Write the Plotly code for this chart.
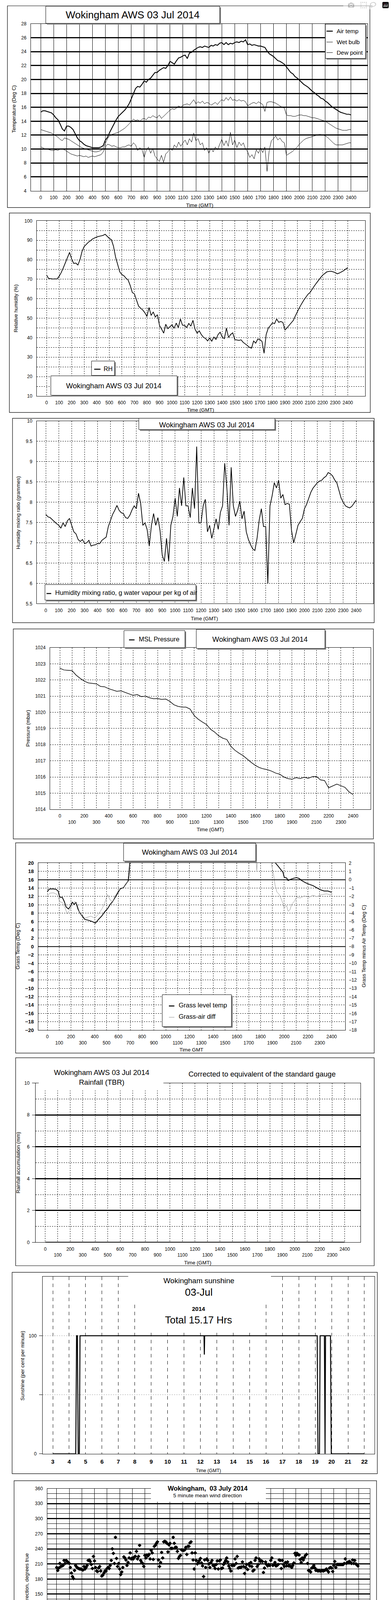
import plotly.graph_objects as go

W, H = 1000, 5000
SANS = "Liberation Sans, Arial, Helvetica, sans-serif"

# ------------------------------------------------------------------ DATA
TIME_TICKS = list(range(0, 2401, 100))          # HHMM-style decimal time

# 10-minute samples, 00:00 .. 24:00 (145 values each)
AIR_TEMP = [
    15.3, 15.5, 15.5, 15.4, 15.3, 15.2,
    14.9, 14.5, 14.2, 13.6, 12.9, 12.6,
    13.3, 13.3, 13.1, 12.8, 12.2, 11.6,
    11.2, 11.0, 10.7, 10.5, 10.4, 10.3,
    10.2, 10.2, 10.2, 10.2, 10.3, 10.5,
    11.3, 11.7, 12.4, 13.0, 13.6, 14.2,
    14.7, 15.0, 15.3, 15.6, 16.0, 16.5,
    17.2, 17.9, 18.7, 19.0, 18.9, 19.3,
    19.8, 19.6, 20.0, 20.2, 20.6, 21.0,
    21.0, 21.3, 21.5, 21.7, 21.6, 22.0,
    22.6, 22.4, 22.2, 22.7, 23.1, 23.2,
    23.4, 23.5, 23.0, 23.8, 23.9, 24.2,
    24.4, 24.6, 24.7, 24.6, 24.8, 24.7,
    24.6, 24.9, 24.8, 25.0, 24.9, 25.2,
    25.3, 25.0, 25.3, 25.0, 25.2, 25.1,
    25.3, 25.4, 25.3, 25.5, 25.4, 25.7,
    25.0, 25.1, 24.9, 25.0, 24.9, 24.8,
    24.8, 24.7, 24.6, 24.1, 23.7, 23.5,
    23.3, 23.0, 22.7, 22.6, 22.4, 22.2,
    21.8, 21.4, 21.0, 20.8, 20.4, 20.2,
    19.9, 19.6, 19.3, 19.1, 18.9, 18.6,
    18.3, 18.1, 17.8, 17.6, 17.3, 17.2,
    16.9, 16.7, 16.4, 16.1, 15.9, 15.7,
    15.5, 15.3, 15.2, 15.1, 15.0, 15.0,
    14.9]

WET_BULB = [
    12.8, 12.7, 12.6, 12.5, 12.4, 12.3,
    12.1, 11.9, 11.7, 11.4, 11.2, 11.6,
    11.5, 11.4, 11.2, 11.0, 10.8, 10.6,
    10.4, 10.2, 10.1, 10.0, 9.9, 9.8,
    9.7, 9.6, 9.6, 9.7, 9.8, 10.1,
    10.8, 11.5, 11.9, 12.1, 12.2, 12.3,
    12.4, 12.6, 12.8, 13.0, 13.3, 13.6,
    14.0, 14.3, 14.1, 14.2, 14.0, 14.3,
    14.4, 14.2, 14.6, 14.5, 14.8, 14.6,
    14.5, 14.9, 14.4, 14.7, 15.0, 15.3,
    15.6, 15.8, 15.7, 15.9, 16.2, 16.0,
    16.3, 16.4, 16.5, 16.3, 16.7, 17.1,
    16.5, 16.8, 16.6, 16.9, 16.5, 16.7,
    16.6, 16.3, 16.5, 16.7, 16.4, 16.8,
    17.1, 16.9, 17.4, 17.0, 17.5, 17.0,
    17.1, 16.9, 17.1, 16.9, 17.0, 16.8,
    16.2, 16.4, 16.6, 16.7, 16.5, 16.8,
    16.6, 16.4, 15.4, 16.7, 16.8, 16.8,
    16.7, 16.6, 16.4, 16.2, 16.0, 15.9,
    14.9, 14.8, 14.8, 14.7, 14.7, 14.8,
    14.9, 14.9, 14.8, 14.8, 14.7, 14.6,
    14.5, 14.5, 14.4, 14.3, 14.2, 14.1,
    14.0, 13.8, 13.6, 13.4, 13.2, 13.0,
    12.9, 12.8, 12.7, 12.7, 12.7, 12.8,
    12.8]

DEW_POINT = [
    10.3, 10.2, 10.0, 10.0, 9.9, 9.8,
    9.8, 9.9, 9.8, 10.0, 10.0, 9.9,
    9.7, 9.5, 9.3, 9.2, 9.1, 9.0,
    9.1, 9.0, 8.9, 9.0, 8.8, 8.9,
    9.0, 8.9, 9.0, 9.1, 9.2, 9.6,
    10.3, 10.7, 10.6, 10.4, 10.5, 10.3,
    10.2, 10.2, 10.3, 10.3, 10.5, 10.6,
    10.4, 10.9, 10.6, 9.8, 10.2, 9.9,
    8.8, 9.9, 10.3, 9.4, 10.1, 9.0,
    8.6, 8.2, 9.1, 8.1, 9.3, 9.6,
    10.1, 9.8, 10.6, 10.2, 11.0, 10.4,
    10.9, 11.3, 10.6, 11.5, 11.0, 12.3,
    11.2, 11.5, 10.6, 10.9, 9.8, 10.2,
    9.4, 10.1, 9.6, 10.3, 9.9, 10.6,
    11.4, 10.5, 11.2, 10.4, 12.4, 10.6,
    11.3, 10.2, 11.0, 10.5, 10.9, 10.0,
    9.6, 8.8, 9.2, 8.6, 9.9, 9.4,
    10.2, 9.5, 10.3, 6.8, 9.8, 11.2,
    11.5, 11.9, 11.3, 11.6, 11.1, 10.9,
    9.1, 9.3, 9.5, 9.7, 10.0, 10.3,
    10.7, 11.0, 11.3, 11.5, 11.6, 11.7,
    11.8, 11.9, 12.0, 12.1, 12.1, 12.0,
    11.9, 11.7, 11.4, 11.1, 10.8, 10.6,
    10.6, 10.6, 10.6, 10.7, 10.8, 10.9,
    10.9]

RH = [
    72.2, 70.4, 70.3, 70.1, 70.2, 70.1,
    71.5, 73.4, 75.8, 78.5, 81.5, 83.8,
    80.4, 78.1, 78.3, 77.3, 80.1, 84.4,
    86.8, 87.9, 89.0, 89.8, 90.7, 91.2,
    91.7, 92.0, 92.3, 92.5, 93.1, 92.0,
    91.0, 90.3, 87.0, 81.4, 77.4, 73.8,
    72.4, 71.8, 70.5, 69.6, 66.8, 63.2,
    62.5, 59.5, 56.2, 55.1, 54.2, 52.8,
    50.9, 55.5, 51.4, 53.2, 50.6, 51.8,
    46.3, 44.4, 42.3, 46.9, 44.6, 45.6,
    46.6, 44.8, 47.5, 45.2, 49.6, 46.4,
    46.3, 45.2, 47.3, 45.9, 48.9, 44.3,
    42.3, 43.5, 41.6, 40.2, 39.6, 38.3,
    39.8, 38.2, 40.3, 39.1, 41.6, 42.8,
    40.3, 39.5, 44.9, 40.1, 41.6, 42.5,
    39.0, 38.8, 38.6, 38.9, 37.6, 36.8,
    36.0, 35.0, 34.6, 38.3, 37.2, 39.3,
    39.0, 38.1, 32.0, 41.6, 44.9, 46.2,
    47.6, 47.2, 49.6, 47.9, 48.3, 47.8,
    43.9, 45.1, 46.3, 47.6, 48.9, 51.3,
    53.6, 55.6, 57.5, 59.3, 60.8, 62.3,
    63.2, 64.9, 66.5, 68.0, 69.5, 70.8,
    72.1, 73.0, 73.8, 74.0, 74.1, 73.8,
    73.4, 72.8, 73.2, 73.8, 74.4, 75.2,
    76.0]

MIXING_RATIO = [
    7.70, 7.64, 7.62, 7.57, 7.52, 7.47,
    7.43, 7.36, 7.49, 7.40, 7.54, 7.60,
    7.43, 7.27, 7.22, 7.08, 7.03, 7.08,
    6.98, 7.00, 7.06, 6.92, 6.94, 6.95,
    6.98, 6.98, 7.06, 7.10, 7.14, 7.40,
    7.56, 7.70, 7.80, 7.92, 7.80, 7.74,
    7.72, 7.62, 7.60, 7.68, 7.81, 7.91,
    7.84, 8.22, 7.97, 7.43, 7.49, 7.33,
    6.92, 7.43, 7.72, 7.43, 7.62, 7.30,
    6.70, 6.54, 7.11, 6.54, 7.43, 7.65,
    8.10, 7.65, 8.35, 7.91, 8.61, 7.91,
    7.91, 7.62, 8.35, 7.84, 9.37, 7.49,
    7.49, 7.91, 8.07, 7.27, 7.43, 7.11,
    7.35, 7.59, 7.33, 7.75, 7.91, 8.96,
    8.35, 7.43, 8.86, 7.91, 7.65, 7.80,
    8.03, 7.59, 7.78, 7.27, 7.08, 6.95,
    6.85, 6.81, 7.11, 7.56, 7.84, 7.40,
    7.40, 6.00, 7.91, 8.16, 8.48, 8.35,
    8.54, 8.10, 8.19, 7.94, 7.97, 7.95,
    7.30, 7.00, 7.21, 7.43, 7.52, 7.60,
    7.84, 7.95, 8.10, 8.25, 8.35, 8.42,
    8.48, 8.52, 8.54, 8.60, 8.64, 8.73,
    8.70, 8.65, 8.55, 8.48, 8.29, 8.10,
    8.00, 7.91, 7.88, 7.86, 7.90, 7.98,
    8.05]

# 20-minute samples (73 values)
MSL_PRESSURE = [
    1022.73, 1022.62, 1022.60, 1022.58, 1022.30, 1022.10,
    1021.93, 1021.82, 1021.79, 1021.76, 1021.60, 1021.58,
    1021.46, 1021.38, 1021.30, 1021.33, 1021.24, 1021.14,
    1021.05, 1021.10, 1020.97, 1021.00, 1020.90, 1020.84,
    1020.85, 1020.80, 1020.82, 1020.68, 1020.47, 1020.37,
    1020.32, 1020.32, 1020.20, 1019.80, 1019.57, 1019.40,
    1019.25, 1018.95, 1018.78, 1018.55, 1018.40, 1018.32,
    1017.90, 1017.65, 1017.47, 1017.32, 1017.10, 1016.90,
    1016.72, 1016.58, 1016.50, 1016.45, 1016.36, 1016.24,
    1016.17, 1016.00, 1015.90, 1015.86, 1015.96, 1015.90,
    1015.98, 1015.92, 1016.02, 1016.03, 1015.82, 1015.78,
    1015.33, 1015.44, 1015.56, 1015.46, 1015.36, 1015.08,
    1014.91]

# (time HHMM-decimal, value); None = off the chart (above 20 degC)
GRASS_TEMP = [
    (0, 13.1), (11, 13.6), (21, 13.8), (53, 13.8), (74, 13.7), (91, 13.3),
    (105, 11.8), (126, 11.8), (143, 10.8), (158, 9.5), (179, 9.0), (194, 9.6),
    (211, 10.6), (227, 10.1), (242, 10.6), (257, 9.1), (274, 8.1), (295, 7.3),
    (316, 6.5), (347, 6.3), (379, 6.0), (406, 5.6), (432, 6.5), (459, 7.3),
    (484, 8.3), (509, 9.1), (531, 10.1), (552, 10.8), (573, 11.8), (594, 12.8),
    (615, 13.8), (642, 14.1), (663, 14.9), (684, 15.8), (691, 17.8), (700, 22.0),
    (1300, None),
    (1915, 22.0), (1926, 20.0), (1947, 19.3), (1968, 18.6), (1989, 17.8),
    (2000, 16.6), (2021, 16.4), (2032, 15.8), (2053, 16.1), (2084, 16.4),
    (2105, 16.5), (2126, 16.3), (2147, 15.8), (2179, 15.3), (2211, 14.9),
    (2242, 14.6), (2274, 14.1), (2305, 13.6), (2337, 13.3), (2368, 13.3), (2400, 13.0)]

# grass minus air temperature (right axis)
GRASS_AIR_DIFF = [
    (0, -1.95), (21, -1.6), (53, -1.57), (84, -1.78), (105, -2.6), (130, -2.77),
    (152, -3.45), (168, -4.1), (189, -3.6), (211, -3.1), (232, -2.6), (253, -2.95),
    (274, -4.0), (295, -4.27), (316, -4.6), (347, -4.45), (368, -4.36), (400, -4.6),
    (432, -4.1), (463, -3.44), (484, -2.77), (509, -1.78), (531, -2.44), (552, -2.61),
    (573, -1.94), (600, -1.28), (632, -1.03), (663, -0.6), (678, -0.2), (700, 3.0),
    (1200, None),
    (1758, 3.0), (1768, 1.1), (1778, 3.0),
    (1830, None),
    (1885, 3.0), (1895, 1.63), (1909, 0.7), (1922, -0.6), (1937, -1.44), (1958, -1.78),
    (1979, -2.44), (2000, -3.35), (2021, -3.1), (2032, -3.77), (2048, -3.6), (2063, -2.94),
    (2084, -2.6), (2105, -2.1), (2137, -2.18), (2168, -1.94), (2211, -2.1), (2242, -1.85),
    (2274, -2.03), (2316, -1.78), (2358, -1.7), (2400, -1.85)]

RAINFALL = [(0, 0.0), (2400, 0.0)]

# (hour, per cent per minute)
SUNSHINE = [
    (3.0, 0), (4.40, 0), (4.45, 100), (4.50, 100), (4.55, 0), (4.62, 0), (4.66, 100),
    (12.22, 100), (12.24, 84), (12.26, 100), (19.12, 100), (19.17, 0), (19.26, 0),
    (19.30, 100), (19.56, 100), (19.60, 0), (19.63, 100), (19.93, 100), (19.98, 0), (22.0, 0)]

SUN_HOURS = list(range(3, 23))

# 5-minute mean wind direction (288 values, 00:00 .. 23:55)
WIND_DIR = [
    203, 197, 202, 211, 205, 206, 207, 217, 211, 217, 215, 213,
    211, 203, 192, 185, 181, 197, 207, 204, 202, 201, 200, 200,
    199, 198, 205, 200, 203, 207, 217, 218, 215, 209, 201, 225,
    216, 203, 196, 195, 202, 205, 196, 186, 188, 192, 196, 196,
    201, 203, 201, 207, 217, 240, 231, 211, 263, 221, 205, 211,
    200, 189, 194, 203, 224, 222, 218, 207, 213, 222, 232, 220,
    222, 220, 224, 225, 235, 220, 225, 247, 217, 213, 211, 205,
    227, 222, 228, 226, 229, 220, 237, 232, 219, 245, 247, 251,
    254, 218, 205, 213, 233, 222, 254, 255, 254, 251, 234, 248,
    251, 241, 241, 263, 251, 243, 243, 235, 221, 225, 227, 238,
    237, 237, 238, 243, 229, 245, 245, 252, 254, 232, 218, 200,
    232, 217, 210, 213, 217, 221, 212, 206, 185, 218, 203, 220,
    217, 210, 203, 213, 217, 207, 206, 201, 209, 216, 200, 216,
    218, 201, 202, 209, 213, 217, 222, 214, 206, 201, 196, 207,
    209, 207, 220, 211, 225, 202, 203, 203, 204, 214, 205, 191,
    203, 209, 199, 210, 206, 213, 205, 196, 198, 217, 222, 205,
    209, 220, 215, 216, 215, 193, 202, 214, 209, 206, 209, 207,
    217, 222, 207, 209, 213, 206, 207, 209, 218, 217, 201, 217,
    209, 205, 213, 206, 214, 206, 206, 205, 203, 207, 212, 231,
    227, 231, 229, 228, 219, 213, 222, 218, 223, 227, 229, 211,
    197, 197, 194, 202, 203, 207, 202, 197, 198, 196, 197, 196,
    196, 197, 196, 197, 198, 200, 197, 194, 202, 203, 202, 195,
    207, 215, 203, 209, 209, 209, 209, 209, 209, 209, 211, 220,
    211, 213, 214, 215, 213, 211, 218, 211, 217, 210, 209, 206]

# 10 min mean wind speed, every 0.2 h (121 values)
WIND_MEAN = [
    2.9, 3.4, 4.2, 4.5, 4.3, 4.5, 4.1, 2.9, 3.1, 3.6,
    3.9, 3.8, 3.6, 3.9, 3.4, 2.3, 2.3, 2.2, 2.3, 2.1,
    2.5, 2.6, 2.3, 2.1, 1.5, 0.7, 1.8, 2.3, 3.7, 4.5,
    4.5, 4.8, 5.6, 5.4, 4.8, 6.6, 7.2, 6.9, 6.6, 7.7,
    6.4, 7.5, 6.1, 8.8, 6.9, 7.5, 8.3, 7.5, 8.0, 7.7,
    7.7, 10.7, 9.9, 9.1, 9.3, 8.0, 10.4, 9.1, 10.2, 9.9,
    9.6, 9.9, 10.7, 10.2, 10.4, 9.9, 11.8, 10.2, 11.0, 9.9,
    9.3, 10.2, 9.3, 9.9, 9.1, 10.2, 10.2, 10.4, 9.6, 9.9,
    9.6, 11.0, 10.7, 10.4, 11.0, 10.2, 7.5, 9.1, 9.6, 9.1,
    7.2, 8.8, 8.3, 8.8, 8.3, 7.7, 6.6, 7.2, 6.4, 5.3,
    4.5, 4.8, 4.5, 4.5, 4.6, 5.0, 4.8, 4.9, 5.0, 4.5,
    5.3, 4.5, 5.6, 6.4, 6.1, 6.4, 6.6, 6.9, 6.1, 6.1,
    5.8]

# max gust, every 0.1 h (241 values)
WIND_GUST = [
    4.0, 5.2, 4.5, 8.5, 5.0, 6.8, 5.5, 7.2, 5.0, 6.5,
    5.5, 6.9, 5.0, 4.2, 5.8, 4.0, 5.5, 4.8, 5.2, 5.9,
    5.0, 5.7, 4.6, 5.5, 4.8, 5.6, 4.5, 5.3, 4.4, 4.8,
    3.2, 2.6, 3.3, 2.7, 3.4, 2.8, 3.5, 2.6, 3.2, 3.0,
    2.8, 3.6, 3.0, 3.4, 2.9, 3.5, 3.0, 3.2, 2.7, 2.2,
    1.0, 2.0, 1.6, 2.8, 2.4, 3.5, 4.5, 6.2, 5.0, 7.5,
    5.5, 8.0, 6.2, 9.0, 6.5, 10.5, 7.0, 9.5, 6.0, 10.0,
    7.5, 11.5, 8.0, 10.5, 7.5, 12.0, 8.5, 10.0, 7.0, 11.0,
    8.0, 12.5, 7.5, 10.5, 8.5, 15.0, 9.0, 11.5, 8.0, 12.0,
    8.5, 13.5, 9.0, 12.0, 8.5, 14.0, 9.5, 12.5, 9.0, 13.0,
    9.0, 18.5, 11.5, 15.5, 10.5, 16.0, 11.0, 14.5, 10.0, 17.0,
    10.5, 15.0, 9.5, 17.5, 11.0, 14.0, 10.0, 18.5, 11.5, 16.0,
    10.0, 19.5, 11.5, 15.0, 10.5, 17.5, 12.0, 20.5, 11.0, 16.5,
    11.5, 18.0, 10.5, 16.0, 12.0, 19.0, 11.0, 17.0, 10.5, 15.5,
    11.0, 18.5, 10.0, 16.5, 11.5, 19.5, 10.5, 17.0, 11.0, 16.0,
    11.5, 18.0, 10.5, 17.5, 12.0, 19.0, 11.0, 16.5, 10.5, 18.5,
    11.0, 17.0, 12.0, 19.5, 11.5, 20.0, 11.0, 18.0, 12.0, 19.0,
    9.0, 16.5, 10.5, 14.0, 9.5, 15.5, 10.0, 13.5, 9.0, 15.0,
    3.8, 14.0, 9.5, 12.5, 8.5, 13.0, 9.0, 12.0, 8.0, 11.5,
    8.5, 12.0, 7.5, 11.0, 8.0, 10.5, 7.0, 9.5, 6.5, 8.5,
    5.0, 7.5, 4.5, 8.0, 5.0, 7.0, 4.5, 6.5, 5.0, 7.5,
    5.0, 6.5, 4.8, 7.5, 5.0, 8.0, 5.0, 6.5, 4.6, 8.5,
    5.0, 9.5, 6.0, 10.5, 6.5, 9.0, 6.5, 10.0, 7.0, 9.5,
    7.0, 10.0, 6.5, 11.5, 6.5, 9.0, 6.0, 9.5, 5.8, 8.5,
    7.5]

# speeds below 4 kt shown at x10 scale: (hour, value)
WIND_LOW_X10 = [
    (0.00, 27.4), (0.04, 28.5), (0.08, 28.8), (0.12, 30.4), (0.14, 30.9), (0.15, 31.7),
    (0.19, 33.9), (0.23, 34.4), (0.27, 34.7), (0.31, 35.8), (0.33, 37.7), (0.35, 38.2),
    (0.37, 39.4),
    (1.24, 39.3), (1.27, 36.9), (1.29, 36.1), (1.31, 33.6), (1.35, 32.8), (1.37, 32.0),
    (1.39, 30.7), (1.41, 29.6), (1.43, 28.8), (1.45, 28.0), (1.47, 28.5), (1.49, 29.3),
    (1.51, 30.1), (1.54, 30.9), (1.58, 31.7), (1.62, 32.3), (1.66, 32.8), (1.70, 33.1),
    (1.74, 31.7), (1.78, 32.8), (1.81, 33.9), (1.85, 35.5), (1.89, 36.9), (1.93, 38.5),
    (1.97, 39.0), (2.01, 39.8), (2.05, 38.2), (2.08, 37.4), (2.12, 37.9), (2.16, 38.8),
    (2.20, 37.4), (2.24, 39.0), (2.28, 37.1), (2.32, 36.1), (2.36, 35.0), (2.39, 34.2),
    (2.43, 36.1), (2.47, 37.1), (2.51, 38.2), (2.55, 39.0), (2.59, 38.5), (2.63, 37.1),
    (2.66, 35.5), (2.70, 33.9), (2.74, 33.1), (2.78, 32.8), (2.82, 32.3), (2.86, 32.8),
    (2.90, 32.3), (2.93, 31.2), (2.97, 30.1), (3.01, 28.5), (3.03, 27.4), (3.05, 26.3),
    (3.07, 25.0), (3.09, 23.7), (3.11, 22.0), (3.13, 21.0), (3.17, 20.1),
    (3.20, 21.0), (3.26, 22.0), (3.32, 22.6), (3.38, 22.3), (3.44, 22.8), (3.49, 23.4),
    (3.55, 22.6), (3.61, 21.5), (3.67, 20.4), (3.71, 19.6), (3.75, 20.4), (3.80, 21.8),
    (3.86, 23.1), (3.92, 23.9), (3.98, 22.6), (4.03, 21.5), (4.09, 22.6), (4.15, 24.3),
    (4.21, 25.5), (4.27, 26.6), (4.32, 26.9), (4.38, 26.1), (4.44, 24.7), (4.50, 23.1),
    (4.56, 22.0), (4.61, 20.4), (4.67, 19.9), (4.73, 19.3), (4.77, 18.3), (4.81, 16.6),
    (4.83, 15.3), (4.85, 13.9), (4.86, 11.8), (4.88, 10.2), (4.90, 9.1), (4.94, 7.7),
    (4.96, 6.6), (5.00, 8.0), (5.02, 10.2), (5.04, 12.9), (5.06, 14.7), (5.08, 16.1),
    (5.10, 17.7), (5.14, 18.5), (5.17, 19.1), (5.21, 19.3), (5.25, 19.9), (5.29, 21.0),
    (5.33, 22.6), (5.35, 23.9), (5.37, 25.3), (5.39, 27.4), (5.42, 29.6), (5.44, 31.5),
    (5.46, 33.1), (5.50, 34.7), (5.54, 36.1), (5.58, 37.1), (5.62, 36.9), (5.66, 37.4),
    (5.69, 38.5), (5.73, 39.3)]

WIND_HOURS = list(range(0, 26))

# ------------------------------------------------------------------ HELPERS
T10 = [i * 100 / 6 for i in range(len(AIR_TEMP))]          # 10-min steps in HHMM-decimal
T20 = [i * 100 / 3 for i in range(len(MSL_PRESSURE))]      # 20-min steps
DIR_H = [i / 12 for i in range(len(WIND_DIR))]
MEAN_H = [i * 0.2 for i in range(len(WIND_MEAN))]
GUST_H = [i * 0.1 for i in range(len(WIND_GUST))]

shapes, annotations = [], []
layout = dict(width=W, height=H, margin=dict(l=0, r=0, t=0, b=0), autosize=False,
              paper_bgcolor='white', plot_bgcolor='white', showlegend=False)
fig = go.Figure()


def PX(x):
    return x / W


def PY(y):
    return 1 - y / H


def prect(x0, y0, x1, y1, fill=None, lw=1.2, lc='black'):
    d = dict(type='rect', xref='paper', yref='paper', x0=PX(x0), x1=PX(x1),
             y0=PY(y1), y1=PY(y0), layer='above',
             line=dict(color=lc, width=lw))
    if fill:
        d['fillcolor'] = fill
    if lw == 0:
        d['line'] = dict(width=0)
    shapes.append(d)


def mask(x0, y0, x1, y1):
    prect(x0, y0, x1, y1, fill='white', lw=0)


def sbox(x0, y0, x1, y1, sh=3):
    prect(x0 + sh, y0 + sh, x1 + sh, y1 + sh, fill='#808080', lw=0)
    prect(x0, y0, x1, y1, fill='white', lw=1)


def pline(x0, x1, y, color='black', width=2):
    shapes.append(dict(type='line', xref='paper', yref='paper', x0=PX(x0), x1=PX(x1),
                       y0=PY(y), y1=PY(y), layer='above', line=dict(color=color, width=width)))


def text(x, y, s, size=13, anchor='center', angle=0, bold=False, family=SANS):
    annotations.append(dict(xref='paper', yref='paper', x=PX(x), y=PY(y), text=s,
                            showarrow=False, xanchor=anchor, yanchor='middle',
                            textangle=angle,
                            font=dict(family=family, size=size, color='black',
                                      weight='bold' if bold else 'normal')))


TICKF = dict(family=SANS, size=12, color='black')


def axes(n, box, xr, yr, xkw, ykw):
    x0, y0, x1, y1 = box
    sx = '' if n == 1 else str(n)
    base = dict(showline=True, mirror=True, linecolor='black', linewidth=1, zeroline=False,
                ticks='', showgrid=True, gridcolor='black', gridwidth=1,
                tickfont=TICKF, fixedrange=True)
    xa = dict(base, domain=[PX(x0), PX(x1)], range=xr, anchor='y' + sx)
    xa.update(xkw)
    ya = dict(base, domain=[PY(y1), PY(y0)], range=yr, anchor='x' + sx)
    ya.update(ykw)
    layout['xaxis' + sx] = xa
    layout['yaxis' + sx] = ya
    return 'x' + sx, 'y' + sx


def line(xs, ys, xa, ya, color='black', width=1):
    fig.add_trace(go.Scatter(x=xs, y=ys, mode='lines', xaxis=xa, yaxis=ya, hoverinfo='skip',
                             connectgaps=False, line=dict(color=color, width=width)))


def two_rows(vals, fmt=str):
    return [fmt(v) if i % 2 == 0 else '<br>' + fmt(v) for i, v in enumerate(vals)]


def split(pairs):
    return [p[0] for p in pairs], [p[1] for p in pairs]


# ------------------------------------------------------------------ PANEL 1 : temperatures
prect(19, 8, 946, 526)
xa, ya = axes(1, (79, 54, 940, 483), [-76, 2527], [4, 28],
              dict(tickmode='array', tickvals=TIME_TICKS, ticktext=[str(v) for v in TIME_TICKS],
                   ticklabelstandoff=6),
              dict(tickmode='linear', tick0=0, dtick=2, gridwidth=3, ticklabelstandoff=8))
line(T10, AIR_TEMP, xa, ya, width=2.2)
line(T10, WET_BULB, xa, ya, width=1)
line(T10, DEW_POINT, xa, ya, width=1)
sbox(117, 9, 562, 53)
text(339, 31, 'Wokingham AWS 03 Jul 2014', 26)
sbox(832, 55, 935, 143)
pline(835, 851, 73, width=2.5)
pline(835, 851, 101, width=1)
pline(835, 851, 128, width=1)
text(859, 73, 'Air temp', 15, 'left')
text(859, 101, 'Wet bulb', 15, 'left')
text(859, 128, 'Dew point', 15, 'left')
text(35, 273, 'Temperature (Deg C)', 13, angle=-90)
text(511, 520, 'Time (GMT)', 13)

# ------------------------------------------------------------------ PANEL 2 : RH
prect(24, 540, 947, 1052)
xa, ya = axes(2, (94, 560, 934, 1010), [-78, 2539], [10, 100],
              dict(tickmode='array', tickvals=TIME_TICKS, ticktext=[str(v) for v in TIME_TICKS],
                   griddash='dot', ticklabelstandoff=6),
              dict(tickmode='linear', tick0=0, dtick=10, griddash='dot', ticklabelstandoff=8,
                   minor=dict(dtick=5, tick0=0, showgrid=True, gridcolor='black',
                              griddash='dot', gridwidth=1)))
line(T10, RH, xa, ya, width=1.8)
sbox(234, 920, 293, 957)
pline(241, 257, 941, width=2.5)
text(263, 940, 'RH', 16, 'left')
sbox(130, 958, 453, 1008)
text(291, 983, 'Wokingham AWS 03 Jul 2014', 18.5)
text(41, 785, 'Relative humidity (%)', 13, angle=-90)
text(513, 1046, 'Time (GMT)', 13)

# ------------------------------------------------------------------ PANEL 3 : mixing ratio
prect(32, 1067, 957, 1592)
xa, ya = axes(3, (94, 1074, 955, 1543), [-70, 2533], [5.5, 10],
              dict(tickmode='array', tickvals=TIME_TICKS, ticktext=[str(v) for v in TIME_TICKS],
                   griddash='dot', ticklabelstandoff=6),
              dict(tickmode='linear', tick0=0, dtick=0.5, griddash='dot', ticklabelstandoff=8))
line(T10, MIXING_RATIO, xa, ya, width=1.8)
sbox(355, 1067, 703, 1096)
text(529, 1084, 'Wokingham AWS 03 Jul 2014', 18.5)
sbox(115, 1494, 501, 1534)
pline(119, 131, 1517, width=2.5)
text(139, 1515, 'Humidity mixing ratio, g water vapour per kg of air', 16.5, 'left')
text(46, 1310, 'Humidity mixing ratio (grammes)', 13, angle=-90)
text(523, 1581, 'Time (GMT)', 13)

# ------------------------------------------------------------------ PANEL 4 : pressure
prect(34, 1608, 955, 2147)
xa, ya = axes(4, (128, 1656, 948, 2071), [-80, 2544], [1014, 1024],
              dict(tickmode='array', tickvals=TIME_TICKS, ticktext=two_rows(TIME_TICKS),
                   griddash='dot', ticklabelstandoff=6),
              dict(tickmode='linear', tick0=0, dtick=1, griddash='dot', ticklabelstandoff=8))
line(T20, MSL_PRESSURE, xa, ya, width=1.5)
sbox(317, 1612, 473, 1656)
pline(330, 344, 1636, width=2.5)
text(353, 1634, 'MSL Pressure', 16.5, 'left')
sbox(502, 1609, 831, 1658)
text(665, 1634, 'Wokingham AWS 03 Jul 2014', 18.5)
text(71, 1863, 'Pressure (mbar)', 13, angle=-90)
text(538, 2123, 'Time (GMT)', 13)

# ------------------------------------------------------------------ PANEL 5 : grass temps
prect(40, 2157, 957, 2697)
xa, ya = axes(5, (98, 2209, 883, 2638), [-76, 2515], [-20, 20],
              dict(tickmode='array', tickvals=TIME_TICKS, ticktext=two_rows(TIME_TICKS),
                   griddash='dot', ticklabelstandoff=6),
              dict(tickmode='linear', tick0=0, dtick=2, griddash='dot', ticklabelstandoff=8,
                   tickfont=dict(family=SANS, size=13, color='black', weight='bold')))
layout['yaxis10'] = dict(overlaying='y5', anchor='x5', side='right', range=[-18, 2],
                         tickmode='linear', tick0=0, dtick=1, showgrid=False, zeroline=False,
                         showline=False, tickfont=TICKF, fixedrange=True, ticklabelstandoff=8)
shapes.append(dict(type='line', xref='x5 domain', yref='y5', x0=0, x1=1, y0=0, y1=0,
                   line=dict(color='black', width=2), layer='above'))
shapes.append(dict(type='line', xref='x5 domain', yref='y5', x0=0, x1=1, y0=16, y1=16,
                   line=dict(color='black', width=2), layer='above'))
gx, gy = split(GRASS_TEMP)
dx, dy = split(GRASS_AIR_DIFF)
line(dx, dy, xa, 'y10', color='#8c8c8c', width=1)
line(gx, gy, xa, ya, width=2)
sbox(316, 2158, 654, 2204)
text(485, 2181, 'Wokingham AWS 03 Jul 2014', 18.5)
sbox(415, 2547, 592, 2629)
pline(432, 446, 2576, width=2.5)
pline(432, 446, 2605, color='#8c8c8c', width=1)
text(455, 2574, 'Grass level temp', 16.5, 'left')
text(455, 2603, 'Grass-air diff', 16.5, 'left')
text(46, 2423, 'Grass Temp (Deg C)', 13, angle=-90)
text(931, 2423, 'Grass Temp minus Air Temp (Deg C)', 13, angle=-90)
text(489, 2689, 'Time GMT', 13)

# ------------------------------------------------------------------ PANEL 6 : rainfall
prect(40, 2709, 957, 3243)
xa, ya = axes(6, (91, 2774, 922, 3183), [-78, 2527], [0, 10],
              dict(tickmode='array', tickvals=TIME_TICKS, ticktext=two_rows(TIME_TICKS),
                   griddash='dot', ticklabelstandoff=6),
              dict(tickmode='linear', tick0=0, dtick=2, gridwidth=3, ticks='outside', ticklen=8,
                   tickcolor='black', ticklabelstandoff=4,
                   minor=dict(dtick=1, tick0=0, showgrid=True, gridcolor='black',
                              griddash='dot', gridwidth=1, ticks='')))
rx, ry = split(RAINFALL)
line(rx, ry, xa, ya, width=3)
mask(99, 2760, 418, 2793)
text(260, 2747, 'Wokingham AWS 03 Jul 2014', 18.5)
text(260, 2772, 'Rainfall (TBR)', 18.5)
text(670, 2751, 'Corrected to equivalent of the standard gauge', 18.5)
text(46, 2978, 'Rainfall accumulation (mm)', 13, angle=-90)
text(506, 3235, 'Time (GMT)', 13)

# ------------------------------------------------------------------ PANEL 7 : sunshine
prect(31, 3260, 965, 3777)
xa, ya = axes(7, (109, 3271, 958, 3726), [2.38, 22.62], [0, 150],
              dict(tickmode='array', tickvals=SUN_HOURS, ticktext=[str(v) for v in SUN_HOURS],
                   griddash='dash', ticklabelstandoff=6,
                   tickfont=dict(family=SANS, size=15, color='black', weight='bold')),
              dict(tickmode='array', tickvals=[0, 50, 100], ticktext=['0', '', '100'],
                   griddash='dot', gridcolor='#a0a0a0', ticks='outside', ticklen=8,
                   tickcolor='black', ticklabelstandoff=4))
sx, sy = split(SUNSHINE)
line(sx, sy, xa, ya, width=2.5)
mask(328, 3262, 693, 3336)
mask(350, 3336, 675, 3412)
text(508, 3281, 'Wokingham sunshine', 19)
text(508, 3311, '03-Jul', 26)
text(508, 3354, '2014', 15, bold=True)
text(508, 3382, 'Total 15.17 Hrs', 25.5)
text(57, 3500, 'Sunshine (per cent per minute)', 13, angle=-90)
text(533, 3769, 'Time (GMT)', 12)

# ------------------------------------------------------------------ PANEL 8 : wind direction
prect(36, 3795, 963, 4329)
xa, ya = axes(8, (121, 3815, 946, 4280), [-0.745, 24.87], [0, 360],
              dict(tickmode='array', tickvals=list(range(0, 25)),
                   ticktext=[str(v) for v in range(0, 25)], ticklabelstandoff=6),
              dict(tickmode='linear', tick0=0, dtick=30, gridwidth=2.5, ticklabelstandoff=8,
                   minor=dict(dtick=10, tick0=0, showgrid=True, gridcolor='black',
                              gridwidth=1)))
fig.add_trace(go.Scatter(x=DIR_H, y=WIND_DIR, mode='markers', xaxis=xa, yaxis=ya,
                         hoverinfo='skip',
                         marker=dict(symbol='diamond', size=7.5, color='black')))
mask(386, 3812, 680, 3849)
text(531, 3814, 'Wokingham,  03 July 2014', 16.5, bold=True)
text(531, 3833, '5 minute mean wind direction', 13.5)
text(69, 4047, 'Direction, degrees true', 13, angle=-90)
text(533, 4315, 'Time (GMT)', 13)

# ------------------------------------------------------------------ PANEL 9 : wind speed
prect(36, 4346, 963, 4861)
hour_lbl = ['%02d:00' % h for h in range(24)] + ['', '']
hour_txt = [t if i % 2 == 0 else '<br>' + t for i, t in enumerate(hour_lbl)]
xa, ya = axes(9, (94, 4391, 958, 4786), [-0.76, 25.4], [0, 50],
              dict(tickmode='array', tickvals=WIND_HOURS, ticktext=hour_txt,
                   griddash='dot', ticklabelstandoff=6),
              dict(tickmode='linear', tick0=0, dtick=10, griddash='dot', ticklabelstandoff=8,
                   minor=dict(dtick=5, tick0=0, showgrid=True, gridcolor='black',
                              griddash='dot', gridwidth=1)))
line(GUST_H, WIND_GUST, xa, ya, color='#505050', width=1)
line(MEAN_H, WIND_MEAN, xa, ya, width=2)
lx, lv = split(WIND_LOW_X10)
fig.add_trace(go.Scatter(x=lx, y=lv, mode='markers', xaxis=xa, yaxis=ya, hoverinfo='skip',
                         marker=dict(symbol='diamond', size=7, color='#c8c8c8',
                                     line=dict(color='#404040', width=1))))
mask(99, 4386, 440, 4395)
text(268, 4370, 'Wokingham,  03 July 2014', 18.5)
text(580, 4359, 'Wind speed, 10 min mean / max gust', 14)
text(580, 4376, 'Speeds below 4 kt shown at x10 scale', 14)
sbox(735, 4352, 959, 4378)
pline(768, 779, 4368, width=2.5)
text(786, 4366, 'Speed x 1', 11, 'left')
cx, cy, r = 860, 4366, 4
shapes.append(dict(type='path', xref='paper', yref='paper', layer='above',
                   path='M %f,%f L %f,%f L %f,%f L %f,%f Z' % (
                       PX(cx - r), PY(cy), PX(cx), PY(cy - r), PX(cx + r), PY(cy),
                       PX(cx), PY(cy + r)),
                   fillcolor='#c8c8c8', line=dict(color='#404040', width=1)))
text(872, 4366, 'Speed /10', 11, 'left')
text(50, 4589, 'Speed (knots)', 13, angle=-90)
text(526, 4838, 'Time (GMT)', 13)

layout['shapes'] = shapes
layout['annotations'] = annotations
fig.update_layout(**layout)
fig.write_html("out.html", config={'responsive': False},
               post_script="document.body.style.margin='0px';")
